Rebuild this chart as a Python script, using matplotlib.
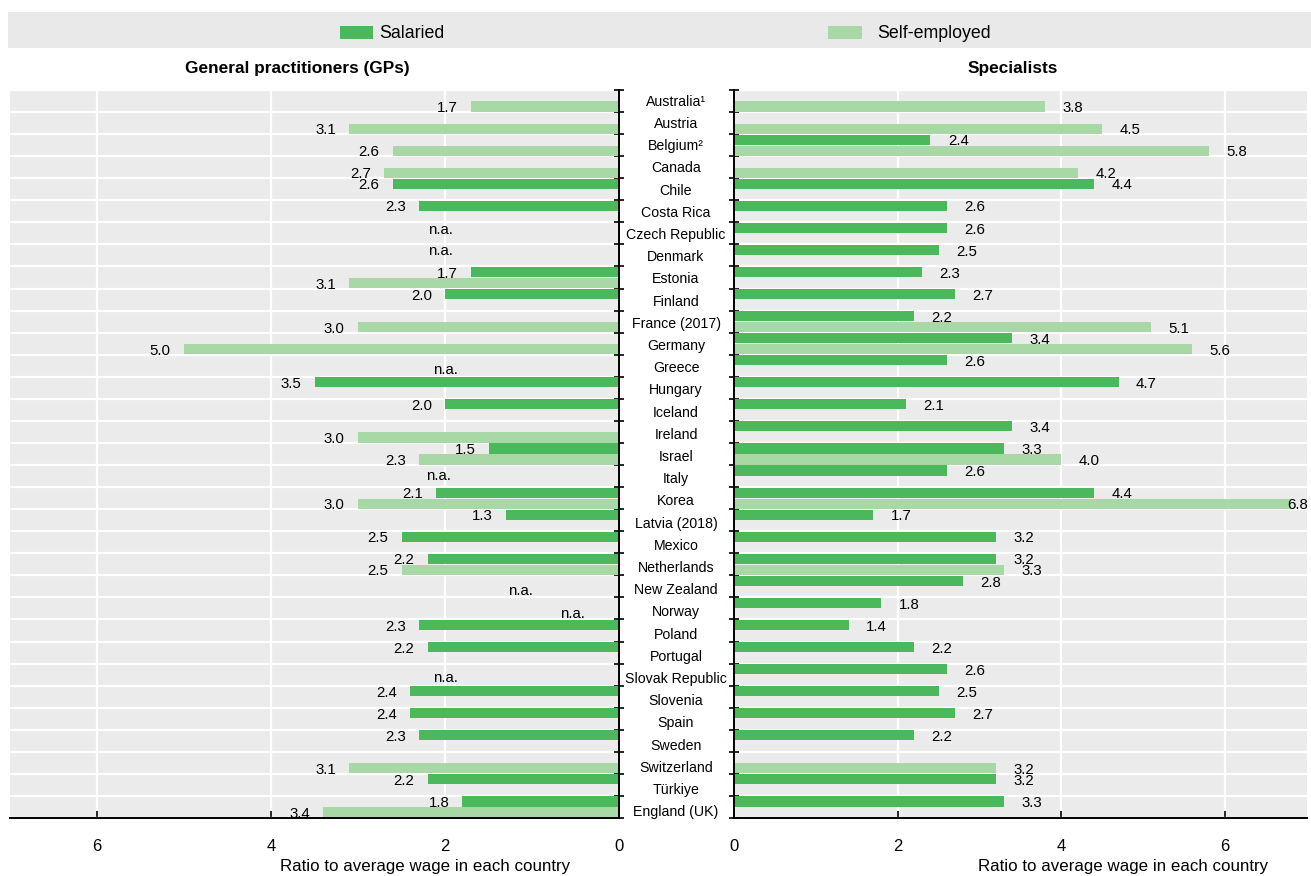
import numpy as np
import matplotlib
matplotlib.use("Agg")
import matplotlib.pyplot as plt
import matplotlib.transforms as mtransforms
from matplotlib.patches import Rectangle

nan = np.nan
countries = ["Australia¹", "Austria", "Belgium²", "Canada", "Chile", "Costa Rica",
             "Czech Republic", "Denmark", "Estonia", "Finland", "France (2017)", "Germany",
             "Greece", "Hungary", "Iceland", "Ireland", "Israel", "Italy", "Korea",
             "Latvia (2018)", "Mexico", "Netherlands", "New Zealand", "Norway", "Poland",
             "Portugal", "Slovak Republic", "Slovenia", "Spain", "Sweden", "Switzerland",
             "Türkiye", "England (UK)"]
gp_salaried = [nan, nan, nan, nan, 2.6, 2.3, nan, nan, 1.7, 2.0, nan, nan, nan, 3.5, 2.0, nan,
               1.5, nan, 2.1, 1.3, 2.5, 2.2, nan, nan, 2.3, 2.2, nan, 2.4, 2.4, 2.3, nan, 2.2, 1.8]
gp_self = [1.7, 3.1, 2.6, 2.7, nan, nan, nan, nan, 3.1, nan, 3.0, 5.0, nan, nan, nan, 3.0,
           2.3, nan, 3.0, nan, nan, 2.5, nan, nan, nan, nan, nan, nan, nan, nan, 3.1, nan, 3.4]
sp_salaried = [nan, nan, 2.4, nan, 4.4, 2.6, 2.6, 2.5, 2.3, 2.7, 2.2, 3.4, 2.6, 4.7, 2.1, 3.4,
               3.3, 2.6, 4.4, 1.7, 3.2, 3.2, 2.8, 1.8, 1.4, 2.2, 2.6, 2.5, 2.7, 2.2, nan, 3.2, 3.3]
sp_self = [3.8, 4.5, 5.8, 4.2, nan, nan, nan, nan, nan, nan, 5.1, 5.6, nan, nan, nan, nan,
           4.0, nan, 6.8, nan, nan, 3.3, nan, nan, nan, nan, nan, nan, nan, nan, 3.2, nan, nan]
gp_na = ["Czech Republic", "Denmark", "Greece", "Italy", "New Zealand", "Norway", "Slovak Republic"]
series_names = ["Salaried", "Self-employed"]
panel_titles = ["General practitioners (GPs)", "Specialists"]
xlabel_text = "Ratio to average wage in each country"

# layout / style
na_pos = {"Czech Republic": (2.05, 0.35), "Denmark": (2.05, 0.30), "Greece": (2.0, 0.69),
          "Italy": (2.07, 0.50), "New Zealand": (1.13, 0.73), "Norway": (0.53, 0.77),
          "Slovak Republic": (2.0, 0.65)}
DARK = "#4CB85C"
LIGHT = "#A8D8A6"
BG = "#EBEBEB"
FONT = "Liberation Sans"
plt.rcParams["font.family"] = [FONT, "DejaVu Sans"]

W, H = 1311, 876
fig = plt.figure(figsize=(W / 100, H / 100), dpi=100)

def fx(px):
    return px / W

def fy(py):
    return 1 - py / H

axL = fig.add_axes([fx(10), fy(818), fx(619) - fx(10), fy(90) - fy(818)])
axR = fig.add_axes([fx(734), fy(818), fx(1307) - fx(734), fy(90) - fy(818)])

n = len(countries)
idx = np.arange(n)
off_sal, off_self, bh = 0.25, 0.75, 0.46

for ax, sal, slf, side in [(axL, gp_salaried, gp_self, "L"), (axR, sp_salaried, sp_self, "R")]:
    ax.set_facecolor(BG)
    sal = np.array(sal, dtype=float)
    slf = np.array(slf, dtype=float)
    ax.barh(idx + off_sal, np.nan_to_num(sal), height=bh, color=DARK, zorder=3)
    ax.barh(idx + off_self, np.nan_to_num(slf), height=bh, color=LIGHT, zorder=3)
    ax.set_xlim(7, 0) if side == "L" else ax.set_xlim(0, 7)
    ax.set_ylim(n, 0)
    ax.set_yticks(np.arange(0, n + 1))
    ax.set_yticklabels([])
    ax.set_xticks([0, 2, 4, 6])
    ax.set_xticklabels(["0", "2", "4", "6"], fontsize=12)
    ax.grid(True, color="white", linewidth=1.6, zorder=1)
    ax.set_axisbelow(True)
    for s in ["top", "left", "right", "bottom"]:
        ax.spines[s].set_visible(False)
    ax.spines["bottom"].set_visible(True)
    ax.spines["bottom"].set_linewidth(1.4)
    ax.spines["bottom"].set_zorder(5)
    vs = "right" if side == "L" else "left"
    ax.spines[vs].set_visible(True)
    ax.spines[vs].set_linewidth(1.4)
    ax.spines[vs].set_zorder(5)
    if side == "L":
        ax.yaxis.tick_right()
    else:
        ax.yaxis.tick_left()
    ax.tick_params(axis="y", direction="inout", length=7, width=1.2)
    ax.tick_params(axis="x", direction="in", length=5, width=1.2, pad=15)
    for vals, off in [(sal, off_sal), (slf, off_self)]:
        for i, v in enumerate(vals):
            if np.isnan(v):
                continue
            if side == "L":
                ax.annotate(f"{v:.1f}", (v, i + off), xytext=(-9.5, -1.2), textcoords="offset points",
                            ha="right", va="center", fontsize=10.8, zorder=6)
            else:
                xv = min(v, 6.55)
                ax.annotate(f"{v:.1f}", (xv, i + off), xytext=(12.5, -1.2), textcoords="offset points",
                            ha="left", va="center", fontsize=10.8, zorder=6, annotation_clip=False)

for c in gp_na:
    i = countries.index(c)
    x, yo = na_pos[c]
    axL.text(x, i + yo, "n.a.", ha="center", va="center", fontsize=10.8, zorder=6)

# country labels in the centre
trans = mtransforms.blended_transform_factory(fig.transFigure, axL.transData)
for i, c in enumerate(countries):
    fig.text(fx(676), 0.54 + 1.006 * i, c, transform=trans, ha="center", va="center", fontsize=10.2)

# axis labels
fig.text(fx(425), fy(866), xlabel_text, ha="center", va="center", fontsize=12.2)
fig.text(fx(1123), fy(866), xlabel_text, ha="center", va="center", fontsize=12.2)

# panel titles
fig.text(fx(297), fy(68), panel_titles[0], ha="center", va="center", fontsize=12.4, fontweight="bold")
fig.text(fx(1013), fy(68), panel_titles[1], ha="center", va="center", fontsize=12.4, fontweight="bold")

# legend band
fig.add_artist(Rectangle((fx(8), fy(48)), fx(1311) - fx(8), fy(12) - fy(48),
                         transform=fig.transFigure, facecolor="#E9E9E9", edgecolor="none", zorder=0))
fig.add_artist(Rectangle((fx(340), fy(39)), fx(33), fy(26) - fy(39),
                         transform=fig.transFigure, facecolor=DARK, edgecolor="none"))
fig.text(fx(379), fy(33), series_names[0], ha="left", va="center", fontsize=12.8)
fig.add_artist(Rectangle((fx(828), fy(39)), fx(34), fy(26) - fy(39),
                         transform=fig.transFigure, facecolor=LIGHT, edgecolor="none"))
fig.text(fx(877), fy(33), series_names[1], ha="left", va="center", fontsize=12.8)

fig.savefig("out.png", dpi=100)
